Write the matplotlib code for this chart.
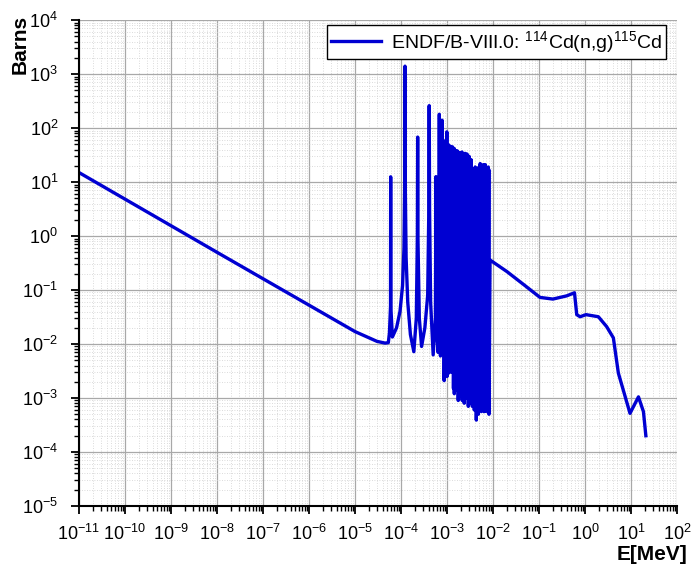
"""
114Cd(n,g) capture cross section, ENDF/B-VIII.0 style plot.
"""

import numpy as np
import matplotlib
matplotlib.use("Agg")
import matplotlib.pyplot as plt
from matplotlib.ticker import LogLocator, NullFormatter

plt.rcParams['font.family'] = ['Liberation Sans', 'DejaVu Sans']
plt.rcParams['mathtext.fontset'] = 'custom'
plt.rcParams['mathtext.rm'] = 'Liberation Sans'
plt.rcParams['axes.unicode_minus'] = False

# smooth part below the resonances (1/v) [MeV, barns]
low_e = [1e-11, 1e-8, 1e-5, 3e-5, 4.5e-5, 5.3e-5, 5.6e-5]
low_xs = [15.0, 0.5, 0.017, 0.0112, 0.0104, 0.0106, 0.016]

# isolated resolved resonances, with their shoulders
res_e = [5.92e-5, 5.96e-5, 6.0e-5, 6.5e-5, 8.0e-5, 9.5e-5, 1.08e-4, 1.16e-4, 1.2e-4,
         1.22e-4, 1.24e-4, 1.29e-4, 1.4e-4, 1.6e-4, 1.9e-4, 2.15e-4, 2.27e-4, 2.3e-4,
         2.33e-4, 2.5e-4, 2.8e-4, 3.3e-4, 3.8e-4, 4.02e-4, 4.1e-4, 4.18e-4, 4.4e-4,
         5.0e-4, 5.6e-4, 5.75e-4, 5.9e-4, 6.4e-4, 6.8e-4, 7.2e-4, 7.8e-4, 8.1e-4]
res_xs = [0.05, 12.5, 0.05, 0.0135, 0.02, 0.04, 0.12, 0.6, 8.0,
          1400.0, 8.0, 0.4, 0.06, 0.015, 0.0072, 0.03, 1.0, 68.0,
          1.0, 0.03, 0.009, 0.02, 0.08, 3.0, 260.0, 3.0, 0.06,
          0.0063, 0.03, 12.6, 0.02, 0.007, 180.0, 0.006, 140.0, 0.0078]

# dense resonance region: peak energies, peak heights, dips after each peak
dense_e = [8.6e-4, 9.0e-4, 9.4e-4, 9.9e-4, 1.03e-3, 1.08e-3, 1.13e-3, 1.19e-3, 1.24e-3,
           1.31e-3, 1.37e-3, 1.43e-3, 1.50e-3, 1.58e-3, 1.66e-3, 1.74e-3, 1.83e-3,
           1.92e-3, 2.02e-3, 2.12e-3, 2.24e-3, 2.35e-3, 2.47e-3, 2.60e-3, 2.73e-3,
           2.88e-3, 3.02e-3, 3.18e-3, 3.34e-3, 3.52e-3, 3.70e-3, 3.89e-3, 4.09e-3,
           4.30e-3, 4.52e-3, 4.76e-3, 5.00e-3, 5.26e-3, 5.53e-3, 5.82e-3, 6.12e-3,
           6.44e-3, 6.77e-3, 7.12e-3, 7.49e-3, 7.88e-3, 8.1e-3]
dense_top = [28.0, 20.0, 60.0, 85.0, 40.0, 49.0, 30.0, 46.0, 22.0, 45.0, 35.0, 42.0,
             39.0, 26.0, 38.0, 36.0, 30.0, 35.0, 24.0, 36.0, 33.0, 22.0, 34.0, 28.0,
             33.0, 18.0, 30.0, 22.0, 26.0, 17.0, 15.0, 17.0, 19.0, 14.0, 18.0, 12.0,
             19.0, 22.0, 16.0, 20.0, 21.0, 14.0, 21.0, 18.0, 17.0, 19.0, 17.0]
dense_bot = [0.0021, 0.0035, 0.0029, 0.0025, 0.0032, 0.0029, 0.0040, 0.0037, 0.0030,
             0.0037, 0.0015, 0.0012, 0.0020, 0.0019, 0.0014, 0.0009, 0.0016, 0.0011,
             0.0016, 0.0009, 0.0011, 0.0008, 0.0013, 0.0010, 0.0012, 0.0007, 0.0011,
             0.0008, 0.0010, 0.0007, 0.00105, 0.0006, 0.0008, 0.00039, 0.0007, 0.0005,
             0.00063, 0.0007, 0.00056, 0.0006, 0.00058, 0.00056, 0.0006, 0.00057,
             0.00058, 0.00056, 0.0005]

# fast region above the resonances
high_e = [8.2e-3, 8.6e-3, 2e-2, 5e-2, 0.105, 0.2, 0.4, 0.59, 0.66, 0.78, 1.05,
          1.95, 2.95, 4.13, 5.3, 6.8, 9.5, 14.5, 18.6, 21.0]
high_xs = [0.0006, 0.36, 0.22, 0.12, 0.073, 0.068, 0.078, 0.089, 0.035, 0.032, 0.035,
           0.032, 0.021, 0.013, 0.0029, 0.0014, 0.00052, 0.00105, 0.00056, 0.0002]

label = r'ENDF/B-VIII.0: $\mathregular{^{114}}$Cd(n,g)$\mathregular{^{115}}$Cd'


def build_curve():
    """
    join the pieces into one curve, dense resonances as peak/dip pairs
    """
    e = list(low_e) + list(res_e)
    xs = list(low_xs) + list(res_xs)
    for i in range(len(dense_e)):
        e.append(dense_e[i])
        xs.append(dense_top[i])
        e.append(dense_e[i] * 1.008)
        xs.append(dense_bot[i])
    e += high_e
    xs += high_xs
    return np.array(e), np.array(xs)


energy, sigma = build_curve()

fig = plt.figure(figsize=(6.91, 5.67), dpi=100)
ax = fig.add_axes([0.1143, 0.1076, 0.8655, 0.857])

ax.plot(energy, sigma, color='#0000d2', linewidth=2.4, label=label)

ax.set_xscale('log')
ax.set_yscale('log')
ax.set_xlim(1e-11, 1e2)
ax.set_ylim(1e-5, 1e4)

ax.xaxis.set_major_locator(LogLocator(base=10, numticks=30))
ax.yaxis.set_major_locator(LogLocator(base=10, numticks=30))
ax.xaxis.set_minor_locator(LogLocator(base=10, subs=np.arange(2, 10), numticks=30))
ax.yaxis.set_minor_locator(LogLocator(base=10, subs=np.arange(2, 10), numticks=30))
ax.xaxis.set_minor_formatter(NullFormatter())
ax.yaxis.set_minor_formatter(NullFormatter())

ax.grid(True, which='major', color='#a8a8a8', linestyle='-', linewidth=0.9)
ax.grid(True, which='minor', color='#cfcfcf', linestyle=(0, (1, 2)), linewidth=0.6)
ax.set_axisbelow(True)

for side in ['top', 'right']:
    ax.spines[side].set_visible(False)
for side in ['left', 'bottom']:
    ax.spines[side].set_linewidth(1.5)

ax.tick_params(which='major', direction='out', length=6, width=1.3, labelsize=13)
ax.tick_params(axis='x', which='major', pad=7)
ax.tick_params(axis='y', which='major', pad=9)
ax.tick_params(which='minor', direction='out', length=3.5, width=1.0)

ax.set_xlabel('E[MeV]', fontsize=15, fontweight='bold', loc='right')
ax.xaxis.set_label_coords(1.018, -0.08)
ax.set_ylabel('Barns', fontsize=15, fontweight='bold', loc='top')
ax.yaxis.set_label_coords(-0.082, 1.01)

leg = ax.legend(loc='upper right', bbox_to_anchor=(0.998, 1.0097), fontsize=14,
                fancybox=False, framealpha=1, edgecolor='black',
                handlelength=2.6, borderpad=0.2, handletextpad=0.5)
leg.get_frame().set_linewidth(1.0)

fig.savefig('out.png', dpi=100)
